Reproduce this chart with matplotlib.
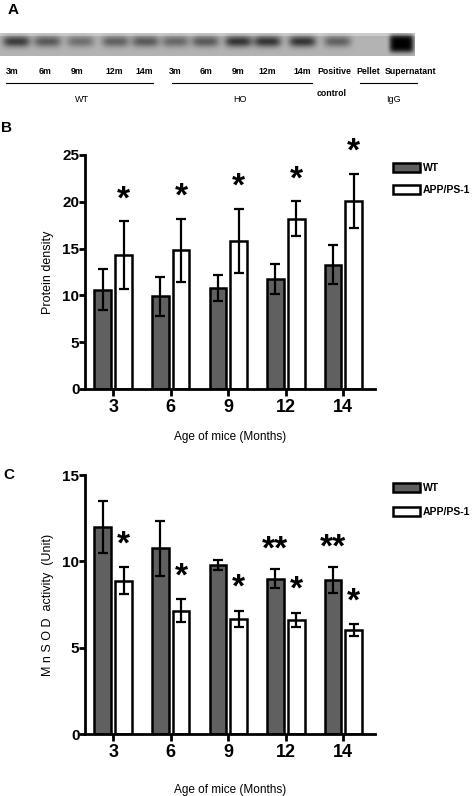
import numpy as np
import matplotlib
matplotlib.use('Agg')
import matplotlib.pyplot as plt
from matplotlib.patches import Patch

plt.rcParams['font.family'] = ['Liberation Sans', 'DejaVu Sans']

# ---- data ----
ages = ['3', '6', '9', '12', '14']

# panel A: western blot lanes and band strength (0 = none, 1 = darkest)
lane_labels = ['3m', '6m', '9m', '12m', '14m', '3m', '6m', '9m', '12m', '14m',
               'Positive', 'Pellet', 'Supernatant']
band_strength = [0.8, 0.6, 0.45, 0.55, 0.6, 0.5, 0.6, 0.85, 0.85, 0.85, 0.55, 0.0, 1.0]

# panel B: protein density
wt_density = [10.6, 9.9, 10.8, 11.8, 13.3]
wt_density_err = [2.2, 2.1, 1.4, 1.6, 2.1]
app_density = [14.3, 14.8, 15.8, 18.2, 20.1]
app_density_err = [3.6, 3.4, 3.45, 1.85, 2.9]
density_stars = ['*', '*', '*', '*', '*']

# panel C: MnSOD activity
wt_sod = [11.97, 10.75, 9.8, 9.0, 8.92]
wt_sod_err = [1.5, 1.6, 0.3, 0.57, 0.77]
app_sod = [8.88, 7.14, 6.66, 6.62, 6.02]
app_sod_err = [0.77, 0.66, 0.48, 0.41, 0.33]
wt_sod_stars = ['', '', '', '**', '**']
app_sod_stars = ['*', '*', '*', '*', '*']

W, H = 475, 796
fig = plt.figure(figsize=(W / 100, H / 100), dpi=100)


def px_axes(x0, y0, x1, y1):
    # pixel box (top-left origin) -> figure axes
    return fig.add_axes([x0 / W, 1 - y1 / H, (x1 - x0) / W, (y1 - y0) / H])


def px_text(x, y, s, **kw):
    fig.text(x / W, 1 - y / H, s, **kw)


# ---- panel A ----
ax_blot = px_axes(0, 33, 415, 56)
lane_x = [16, 47, 80, 115, 145, 175, 205, 238, 267, 302, 337, 370, 401]
label_x = [12, 45, 77, 114, 144, 175, 206, 238, 267, 302, 334, 368, 411]
xx = np.arange(415)
yy = np.arange(23)
img = np.full((23, 415), 0.7)
img[:3, :] = 0.8
for cx, s in zip(lane_x, band_strength):
    if s >= 1:
        prof_x = np.exp(-((xx - cx) / 12) ** 6)
        prof_y = np.exp(-((yy - 10) / 9) ** 4)
        amp = 0.7
    else:
        prof_x = np.exp(-((xx - cx) / 13.5) ** 4)
        prof_y = np.exp(-((yy - 8) / 5.5) ** 2)
        amp = 0.58
    img -= amp * s * np.outer(prof_y, prof_x)
img = np.clip(img, 0, 1)
ax_blot.imshow(img, cmap='gray', vmin=0, vmax=1, aspect='auto', interpolation='bilinear')
ax_blot.axis('off')

for cx, lab in zip(label_x, lane_labels):
    px_text(cx, 71, lab, ha='center', va='center', fontsize=6.3, fontweight='bold')
px_text(332, 94, 'control', ha='center', va='center', fontsize=6.3, fontweight='bold')
for x0, x1, name, xt in [(6, 153, 'WT', 82), (172, 312, 'HO', 240), (360, 417, 'IgG', 393)]:
    fig.add_artist(plt.Line2D([x0 / W, x1 / W], [1 - 83 / H, 1 - 83 / H], color='black', lw=0.8))
    px_text(xt, 100, name, ha='center', va='center', fontsize=6.5)
px_text(13, 10, 'A', ha='center', va='center', fontsize=11, fontweight='bold')


def bar_panel(ax, wt, wt_err, app, app_err, ymax, yticks, ylabel, xpad):
    x = np.arange(len(ages))
    w = 0.29
    off = 0.18
    ekw = dict(elinewidth=1.6, capthick=1.6, capsize=3.5, ecolor='black')
    ax.bar(x - off, wt, w, yerr=wt_err, color='#606060', edgecolor='black',
           linewidth=1.8, error_kw=ekw, label='WT', zorder=2)
    ax.bar(x + off, app, w, yerr=app_err, color='white', edgecolor='black',
           linewidth=1.8, error_kw=ekw, label='APP/PS-1', zorder=2)
    ax.set_xlim(-0.49, 4.55)
    ax.set_ylim(0, ymax)
    ax.set_xticks(x)
    ax.set_xticklabels(ages, fontsize=13, fontweight='bold')
    ax.set_yticks(yticks)
    ax.set_yticklabels([str(t) for t in yticks], fontsize=11, fontweight='bold')
    for sp in ['top', 'right']:
        ax.spines[sp].set_visible(False)
    for sp in ['left', 'bottom']:
        ax.spines[sp].set_linewidth(2)
    ax.tick_params(axis='y', width=2, length=4, pad=0)
    ax.tick_params(axis='x', width=2, length=5, pad=2)
    ax.set_ylabel(ylabel, fontsize=9, labelpad=6)
    ax.set_xlabel('Age of mice (Months)', fontsize=8.5, labelpad=xpad)
    return x, off


star_kw = dict(ha='center', va='center', fontsize=24, fontweight='bold', clip_on=False)

# ---- panel B ----
axB = px_axes(85, 155, 375, 389)
x, off = bar_panel(axB, wt_density, wt_density_err, app_density, app_density_err,
                   25, [0, 5, 10, 15, 20, 25], 'Protein density', 11)
for i, s in enumerate(density_stars):
    axB.text(x[i] + off, app_density[i] + app_density_err[i] + 2.3, s, **star_kw)
px_text(7, 128, 'B', ha='center', va='center', fontsize=11, fontweight='bold')

# ---- panel C ----
axC = px_axes(85, 475, 375, 734)
x, off = bar_panel(axC, wt_sod, wt_sod_err, app_sod, app_sod_err,
                   15, [0, 5, 10, 15], 'M n S O D  activity  (Unit)', 17)
for i in range(len(ages)):
    if app_sod_stars[i]:
        axC.text(x[i] + off, app_sod[i] + app_sod_err[i] + 1.3, app_sod_stars[i], **star_kw)
    if wt_sod_stars[i]:
        axC.text(x[i] - off, wt_sod[i] + wt_sod_err[i] + 1.1, wt_sod_stars[i], **star_kw)
px_text(9, 475, 'C', ha='center', va='center', fontsize=11, fontweight='bold')

# legends
for ax, top, sp in [(axB, 163, 1.15), (axC, 483, 1.35)]:
    handles = [Patch(facecolor='#606060', edgecolor='black', linewidth=1.8, label='WT'),
               Patch(facecolor='white', edgecolor='black', linewidth=1.8, label='APP/PS-1')]
    fig.legend(handles=handles, loc='upper left', bbox_to_anchor=(393 / W, 1 - top / H),
               frameon=False, prop={'size': 7.5, 'weight': 'bold'},
               handlelength=2.6, handleheight=0.9, labelspacing=sp, handletextpad=0.3,
               borderaxespad=0, borderpad=0)

fig.savefig('out.png', dpi=100)
